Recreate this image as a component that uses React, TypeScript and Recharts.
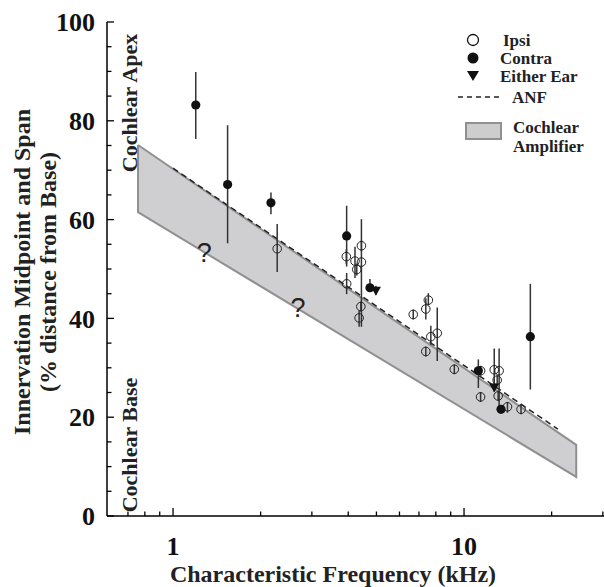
import React from "react";
import { ComposedChart, XAxis, YAxis, Scatter, Line, Area, ErrorBar } from "recharts";

// Ipsi recordings: CF (kHz), innervation midpoint and span limits (% from base)
const ipsiFreq = [2.28, 3.94, 3.95, 4.22, 4.28, 4.44, 4.44, 4.42, 4.36, 6.69, 7.39, 7.54, 7.69, 8.09, 7.39, 9.26, 11.4, 11.4, 12.7, 13.2, 13.0, 13.1, 14.1, 15.7];
const ipsiMid = [54.1, 52.5, 47.0, 51.6, 49.9, 54.7, 51.4, 42.4, 40.1, 40.8, 41.9, 43.7, 36.3, 37.0, 33.3, 29.7, 29.4, 24.1, 29.6, 29.4, 27.5, 24.3, 22.1, 21.6];
const ipsiLow = [49.4, 51.0, 44.9, 48.2, 48.7, 53.6, 38.3, 41.4, 38.3, 39.8, 39.8, 42.7, 34.6, 31.4, 32.3, 28.7, 28.4, 23.1, 25.5, 20.9, 26.5, 23.3, 20.9, 20.6];
const ipsiHigh = [59.1, 54.0, 49.2, 54.5, 51.1, 55.8, 60.1, 43.4, 41.6, 41.8, 44.1, 45.1, 38.5, 42.2, 34.3, 30.7, 30.4, 25.1, 33.9, 33.9, 28.5, 25.3, 23.1, 22.6];

// Contra recordings
const contraFreq = [1.197, 1.54, 2.17, 3.95, 4.75, 11.2, 13.4, 16.9];
const contraMid = [83.2, 67.1, 63.4, 56.7, 46.2, 29.4, 21.6, 36.3];
const contraLow = [76.3, 55.2, 61.1, 50.5, 45.6, 25.9, 21.0, 25.6];
const contraHigh = [89.9, 79.1, 65.5, 62.8, 48.0, 31.7, 22.2, 47.0];

// Either ear
const eitherFreq = [4.98, 12.7];
const eitherMid = [45.6, 26.0];
const eitherLow = [44.8, 25.2];
const eitherHigh = [46.6, 26.8];

// cochlear amplifier band and ANF map
const bandFreq = [0.758, 24.3];
const bandTop = [75.1, 14.4];
const bandBottom = [61.5, 7.9];
const anfFreq = [1.0, 21];
const anfVal = [70.4, 17.6];

const questionFreq = [1.28, 2.69];
const questionVal = [53.4, 42.3];

const xTicks = [0.7, 0.8, 0.9, 1, 2, 3, 4, 5, 6, 7, 8, 9, 10, 20, 30];
const xMajor = [1, 10];
const yTicks = [0, 5, 10, 15, 20, 25, 30, 35, 40, 45, 50, 55, 60, 65, 70, 75, 80, 85, 90, 95, 100];
const yMajor = [0, 20, 40, 60, 80, 100];

const FONT = "'Liberation Serif', 'Times New Roman', serif";

const toPoints = (f: number[], m: number[], lo: number[], hi: number[]) =>
  f.map((x, i) => ({ f: x, v: m[i], err: [m[i] - lo[i], hi[i] - m[i]] }));

const ipsi = toPoints(ipsiFreq, ipsiMid, ipsiLow, ipsiHigh);
const contra = toPoints(contraFreq, contraMid, contraLow, contraHigh);
const either = toPoints(eitherFreq, eitherMid, eitherLow, eitherHigh);

const bandFill = bandFreq.map((f, i) => ({ f, range: [bandBottom[i], bandTop[i]] }));
const bandOutline = [
  { f: bandFreq[0], v: bandTop[0] },
  { f: bandFreq[1], v: bandTop[1] },
  { f: bandFreq[1], v: bandBottom[1] },
  { f: bandFreq[0], v: bandBottom[0] },
  { f: bandFreq[0], v: bandTop[0] },
];
const anf = anfFreq.map((f, i) => ({ f, v: anfVal[i] }));
const questions = questionFreq.map((f, i) => ({ f, v: questionVal[i] }));

const XTick = (p: any) => {
  const major = xMajor.includes(p.payload.value);
  return (
    <g>
      <line x1={p.x} x2={p.x} y1={p.y} y2={p.y - (major ? 8 : 4.5)} stroke="#000" strokeWidth={1.3} />
      {major && (
        <text x={p.x} y={p.y + 39} textAnchor="middle" fontFamily={FONT} fontWeight="bold" fontSize={26} fill="#111">
          {p.payload.value}
        </text>
      )}
    </g>
  );
};

const YTick = (p: any) => {
  const major = yMajor.includes(p.payload.value);
  return (
    <g>
      <line x1={p.x} x2={p.x + (major ? 7 : 4.5)} y1={p.y} y2={p.y} stroke="#000" strokeWidth={1.3} />
      {major && (
        <text x={p.x - 12} y={p.y} dy="0.35em" textAnchor="end" fontFamily={FONT} fontWeight="bold" fontSize={26} fill="#111">
          {p.payload.value}
        </text>
      )}
    </g>
  );
};

const OpenDot = (p: any) => <circle cx={p.cx} cy={p.cy} r={4.3} fill="none" stroke="#222" strokeWidth={1} />;
const FilledDot = (p: any) => <circle cx={p.cx} cy={p.cy} r={4.6} fill="#111" />;
const Tri = (p: any) => (
  <path d={`M${p.cx - 5},${p.cy - 4} L${p.cx + 5},${p.cy - 4} L${p.cx},${p.cy + 5} Z`} fill="#111" />
);
const Question = (p: any) => (
  <text x={p.cx} y={p.cy} dy="0.36em" textAnchor="middle" fontFamily="'Liberation Sans', Arial, sans-serif" fontSize={27} fill="#222">
    ?
  </text>
);

const Overlay = () => (
  <svg width={604} height={587} style={{ position: "absolute", left: 0, top: 0, pointerEvents: "none" }}>
    <g fontFamily={FONT} fontWeight="bold" fill="#222">
      {/* axis titles */}
      <text x={333} y={582} textAnchor="middle" fontSize={24}>
        Characteristic Frequency (kHz)
      </text>
      <text transform="translate(30,272) rotate(-90)" textAnchor="middle" fontSize={24}>
        Innervation Midpoint and Span
      </text>
      <text transform="translate(56,272) rotate(-90)" textAnchor="middle" fontSize={24}>
        (% distance from Base)
      </text>
      <text transform="translate(137,103) rotate(-90)" textAnchor="middle" fontSize={22}>
        Cochlear Apex
      </text>
      <text transform="translate(137,445) rotate(-90)" textAnchor="middle" fontSize={22}>
        Cochlear Base
      </text>

      {/* legend */}
      <circle cx={473} cy={40} r={5.5} fill="none" stroke="#111" strokeWidth={1.3} />
      <text x={503} y={46} fontSize={17}>Ipsi</text>
      <circle cx={473} cy={58} r={5.5} fill="#111" />
      <text x={500} y={64} fontSize={17}>Contra</text>
      <path d="M467,71 L479,71 L473,81 Z" fill="#111" />
      <text x={500} y={82} fontSize={17}>Either Ear</text>
      <line x1={458} x2={502} y1={97} y2={97} stroke="#222" strokeWidth={1.3} strokeDasharray="5 4" />
      <text x={512} y={103} fontSize={17}>ANF</text>
      <rect x={466} y={123} width={35} height={16} fill="#cdcdcd" stroke="#909090" strokeWidth={2} />
      <text x={513} y={133} fontSize={17}>Cochlear</text>
      <text x={513} y={152} fontSize={17}>Amplifier</text>
    </g>
  </svg>
);

export default function App() {
  return (
    <div style={{ position: "absolute", left: 0, top: 0, width: 604, height: 587, background: "#fff" }}>
      <ComposedChart width={604} height={587} margin={{ top: 22, right: 0, bottom: 0, left: 0 }}>
        <XAxis
          dataKey="f"
          type="number"
          scale="log"
          domain={[0.593, 30.27]}
          allowDataOverflow
          ticks={xTicks}
          tickSize={0}
          tickMargin={0}
          tickLine={false}
          tick={<XTick />}
          axisLine={{ stroke: "#000", strokeWidth: 1.5 }}
          height={71}
          interval={0}
        />
        <YAxis
          type="number"
          domain={[0, 100]}
          ticks={yTicks}
          tickSize={0}
          tickMargin={0}
          tickLine={false}
          tick={<YTick />}
          axisLine={{ stroke: "#000", strokeWidth: 1.5 }}
          width={107}
          interval={0}
        />
        <Area data={bandFill} dataKey="range" type="linear" fill="#cfcfd1" fillOpacity={1} stroke="none" isAnimationActive={false} />
        <Line data={bandOutline} dataKey="v" type="linear" stroke="#909090" strokeWidth={2} dot={false} activeDot={false} isAnimationActive={false} />
        <Line data={anf} dataKey="v" type="linear" stroke="#222" strokeWidth={1.5} strokeDasharray="6 4" dot={false} activeDot={false} isAnimationActive={false} />
        <Scatter data={questions} dataKey="v" shape={<Question />} isAnimationActive={false} />
        <Scatter data={ipsi} dataKey="v" shape={<OpenDot />} isAnimationActive={false}>
          <ErrorBar dataKey="err" direction="y" width={0} stroke="#333" strokeWidth={1.5} />
        </Scatter>
        <Scatter data={contra} dataKey="v" shape={<FilledDot />} isAnimationActive={false}>
          <ErrorBar dataKey="err" direction="y" width={0} stroke="#333" strokeWidth={1.5} />
        </Scatter>
        <Scatter data={either} dataKey="v" shape={<Tri />} isAnimationActive={false}>
          <ErrorBar dataKey="err" direction="y" width={0} stroke="#333" strokeWidth={1.5} />
        </Scatter>
      </ComposedChart>
      <Overlay />
    </div>
  );
}
